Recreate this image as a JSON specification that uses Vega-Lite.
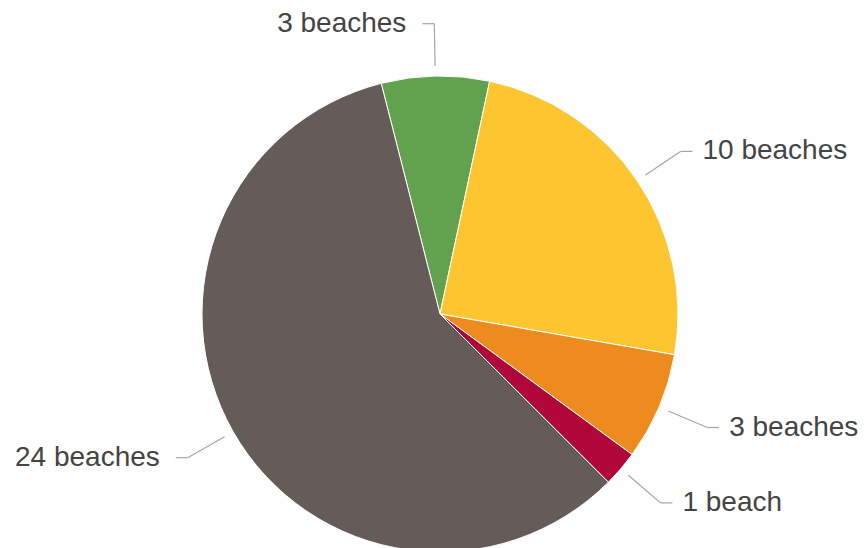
{
  "$schema": "https://vega.github.io/schema/vega-lite/v6.json",
  "width": 880,
  "height": 628,
  "autosize": {"type": "none"},
  "padding": 0,
  "background": "white",
  "config": {"view": {"stroke": null}},
  "data": {
    "values": [
      {"slice": 1, "label": "3 beaches", "beaches": 3},
      {"slice": 2, "label": "10 beaches", "beaches": 10},
      {"slice": 3, "label": "3 beaches", "beaches": 3},
      {"slice": 4, "label": "1 beach", "beaches": 1},
      {"slice": 5, "label": "24 beaches", "beaches": 24}
    ]
  },
  "layer": [
    {
      "mark": {"type": "arc", "outerRadius": 238, "stroke": "white", "strokeWidth": 1},
      "encoding": {
        "theta": {"field": "beaches", "type": "quantitative", "stack": true,
                  "scale": {"range": [-0.2496, 6.0336]}},
        "order": {"field": "slice", "type": "quantitative", "sort": "ascending"},
        "color": {"field": "slice", "type": "nominal", "legend": null,
                  "scale": {"domain": [1, 2, 3, 4, 5],
                            "range": ["#62a24e", "#fdc52f", "#ee8b1f", "#b0063a", "#655c5a"]}}
      }
    },
    {
      "transform": [
        {"stack": "beaches", "groupby": [], "sort": [{"field": "slice"}], "as": ["s0", "s1"]},
        {"joinaggregate": [{"op": "sum", "field": "beaches", "as": "total"}]},
        {"calculate": "-0.2496 + PI * (datum.s0 + datum.s1) / datum.total", "as": "mid"},
        {"calculate": "sin(datum.mid) >= 0 ? 1 : -1", "as": "side"},
        {"calculate": "1.042 * sin(datum.mid)", "as": "lx1"},
        {"calculate": "1.042 * cos(datum.mid)", "as": "ly1"},
        {"calculate": "1.22 * sin(datum.mid)", "as": "lx2"},
        {"calculate": "1.22 * cos(datum.mid)", "as": "ly2"},
        {"calculate": "datum.lx2 + datum.side * 0.05", "as": "lx3"}
      ],
      "layer": [
        {
          "mark": {"type": "rule", "color": "#a6a6a6", "strokeWidth": 1.2},
          "encoding": {
            "x": {"field": "lx1", "type": "quantitative", "axis": null,
                  "scale": {"domain": [-1.8487, 1.8487], "nice": false, "zero": false}},
            "y": {"field": "ly1", "type": "quantitative", "axis": null,
                  "scale": {"domain": [-1.3193, 1.3193], "nice": false, "zero": false}},
            "x2": {"field": "lx2"},
            "y2": {"field": "ly2"}
          }
        },
        {
          "mark": {"type": "rule", "color": "#a6a6a6", "strokeWidth": 1.2},
          "encoding": {
            "x": {"field": "lx2", "type": "quantitative"},
            "y": {"field": "ly2", "type": "quantitative"},
            "x2": {"field": "lx3"}
          }
        },
        {
          "transform": [{"filter": "datum.side > 0"}],
          "mark": {"type": "text", "align": "left", "baseline": "middle", "dx": 10, "dy": 0,
                   "font": "Liberation Sans", "fontSize": 28, "color": "#444444"},
          "encoding": {
            "x": {"field": "lx3", "type": "quantitative"},
            "y": {"field": "ly2", "type": "quantitative"},
            "text": {"field": "label"}
          }
        },
        {
          "transform": [{"filter": "datum.side < 0"}],
          "mark": {"type": "text", "align": "right", "baseline": "middle", "dx": -16, "dy": 0,
                   "font": "Liberation Sans", "fontSize": 28, "color": "#444444"},
          "encoding": {
            "x": {"field": "lx3", "type": "quantitative"},
            "y": {"field": "ly2", "type": "quantitative"},
            "text": {"field": "label"}
          }
        }
      ]
    }
  ]
}
